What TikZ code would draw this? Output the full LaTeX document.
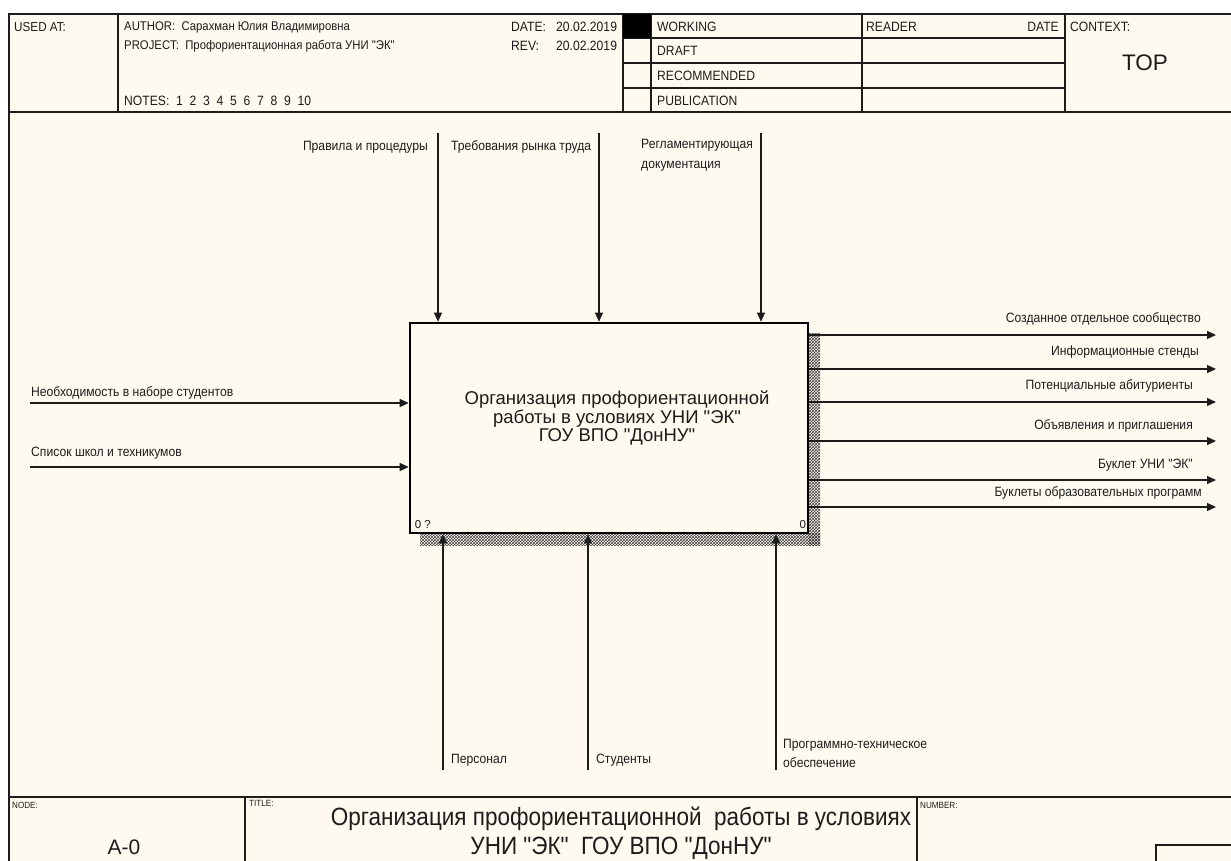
\documentclass[tikz,border=0pt]{standalone}
\usepackage{fontspec}
\setmainfont{Liberation Sans}[Ligatures=TeXOff]
\newfontfamily\narrowfont[FakeStretch=0.9]{Liberation Sans}
\usetikzlibrary{arrows.meta,patterns,positioning}
\definecolor{paper}{HTML}{FFFAF0}
\definecolor{ink}{HTML}{1C1C1C}
\tikzset{
  lbl/.style={inner sep=0pt, text=ink, font=\narrowfont\fontsize{13.5}{15.5}\selectfont},
  hdr/.style={lbl, anchor=west},
  tiny/.style={hdr, font=\narrowfont\fontsize{9}{10}\selectfont},
  rule/.style={draw=ink, line width=1.4pt},
  flow/.style={draw=ink, line width=1.2pt, -{Triangle[length=9pt,width=8pt]}},
  actbox/.style={draw=black, line width=2.6pt, fill=paper, minimum width=398pt,
    minimum height=210pt, inner sep=0pt},
  shade/.style={pattern=crosshatch, pattern color=black!75},
}
\begin{document}
\begin{tikzpicture}[x=1pt, y=-1pt]
\useasboundingbox (0,0) rectangle (1231,861);
\fill[white] (0,0) rectangle (1231,861);
\fill[paper] (9,14) rectangle (1231,861);
\draw[rule] (1231,14) -- (9,14) -- (9,861);
\draw[rule] (9,112) -- (1231,112);
\draw[rule] (118,14) -- (118,112);
\draw[rule] (623,14) -- (623,112);
\draw[rule] (651,14) -- (651,112);
\draw[rule] (862,14) -- (862,112);
\draw[rule] (1065,14) -- (1065,112);
\draw[rule] (623,38) -- (1065,38);
\draw[rule] (623,63) -- (1065,63);
\draw[rule] (623,88) -- (1065,88);
\fill[black] (623,14) rectangle (651,38);
\draw[rule] (9,797) -- (1231,797);
\draw[rule] (245,797) -- (245,861);
\draw[rule] (917,797) -- (917,861);
\draw[rule] (1231,845) -- (1156,845) -- (1156,861);

\node[hdr, font=\narrowfont\fontsize{13}{15}\selectfont] (usedat) at (14,27) {USED AT:};
\node[hdr, font=\narrowfont\fontsize{12.6}{15}\selectfont] (author) at (124,27) {AUTHOR:\ \ Сарахман Юлия Владимировна};
\node[hdr, font=\narrowfont\fontsize{12.6}{15}\selectfont] (project) at (124,46) {PROJECT:\ \ Профориентационная работа УНИ "ЭК"};
\node[hdr] (notes) at (124,101) {NOTES:\ \ 1\ \ 2\ \ 3\ \ 4\ \ 5\ \ 6\ \ 7\ \ 8\ \ 9\ \ 10};
\node[hdr] (date) at (511,27) {DATE:};
\node[hdr] (dateval) at (556,27) {20.02.2019};
\node[hdr] (rev) at (511,46) {REV:};
\node[hdr] (revval) at (556,46) {20.02.2019};
\node[hdr] (working) at (657,27) {WORKING};
\node[hdr] (draft) at (657,51) {DRAFT};
\node[hdr] (recommended) at (657,76) {RECOMMENDED};
\node[hdr] (publication) at (657,101) {PUBLICATION};
\node[hdr] (reader) at (866,27) {READER};
\node[lbl, anchor=east] (readerdate) at (1059,27) {DATE};
\node[hdr] (context) at (1070,27) {CONTEXT:};
\node[lbl, font=\fontsize{22.5}{24}\selectfont] (top) at (1145,63) {TOP};

\fill[shade] (808,333) rectangle (820,545);
\fill[shade] (420,533) rectangle (820,545);
\node[actbox] (act) at (609,428) {};
\node[lbl, align=center, font=\fontsize{18.5}{18.5}\selectfont] (acttext) at (617,418)
  {Организация профориентационной\\работы в условиях УНИ "ЭК"\\ГОУ ВПО "ДонНУ"};
\node[lbl, anchor=south west, font=\fontsize{11.5}{12}\selectfont] (actnum) at ([shift={(6,-5)}]act.south west) {0 ?};
\node[lbl, anchor=south east, font=\fontsize{11.5}{12}\selectfont] (actref) at ([shift={(-3,-5)}]act.south east) {0};

\coordinate (ctl1) at (438,133);
\coordinate (ctl2) at (599,133);
\coordinate (ctl3) at (761,133);
\draw[flow] (ctl1) -- (ctl1 |- act.north);
\draw[flow] (ctl2) -- (ctl2 |- act.north);
\draw[flow] (ctl3) -- (ctl3 |- act.north);
\node[lbl, anchor=east] (ctl1lbl) at (428,147) {Правила и процедуры};
\node[hdr] (ctl2lbl) at (451,147) {Требования рынка труда};
\node[lbl, anchor=north west, align=left, font=\narrowfont\fontsize{13.5}{20}\selectfont] (ctl3lbl) at (641,139) {Регламентирующая\\документация};

\coordinate (in1) at (30,403);
\coordinate (in2) at (30,467);
\draw[flow] (in1) -- (in1 -| act.west);
\draw[flow] (in2) -- (in2 -| act.west);
\node[hdr] (in1lbl) at (31,393) {Необходимость в наборе студентов};
\node[hdr] (in2lbl) at (31,453) {Список школ и техникумов};

\coordinate (out1) at (1216,335);
\coordinate (out2) at (1216,369);
\coordinate (out3) at (1216,402);
\coordinate (out4) at (1216,441);
\coordinate (out5) at (1216,480);
\coordinate (out6) at (1216,507);
\draw[flow] (out1 -| act.east) -- (out1);
\draw[flow] (out2 -| act.east) -- (out2);
\draw[flow] (out3 -| act.east) -- (out3);
\draw[flow] (out4 -| act.east) -- (out4);
\draw[flow] (out5 -| act.east) -- (out5);
\draw[flow] (out6 -| act.east) -- (out6);
\node[lbl, anchor=east] (out1lbl) at (1201,319) {Созданное отдельное сообщество};
\node[lbl, anchor=east] (out2lbl) at (1199,352) {Информационные стенды};
\node[lbl, anchor=east] (out3lbl) at (1193,386) {Потенциальные абитуриенты};
\node[lbl, anchor=east] (out4lbl) at (1193,426) {Объявления и приглашения};
\node[lbl, anchor=east] (out5lbl) at (1193,465) {Буклет УНИ "ЭК"};
\node[lbl, anchor=east] (out6lbl) at (1202,493) {Буклеты образовательных программ};

\coordinate (mech1) at (443,770);
\coordinate (mech2) at (588,770);
\coordinate (mech3) at (776,770);
\draw[flow] (mech1) -- (mech1 |- act.south);
\draw[flow] (mech2) -- (mech2 |- act.south);
\draw[flow] (mech3) -- (mech3 |- act.south);
\node[hdr] (mech1lbl) at (451,760) {Персонал};
\node[hdr] (mech2lbl) at (596,760) {Студенты};
\node[lbl, anchor=north west, align=left, font=\narrowfont\fontsize{13.5}{19}\selectfont] (mech3lbl) at (783,739) {Программно-техническое\\обеспечение};

\node[tiny] (nodelbl) at (12,805) {NODE:};
\node[lbl, font=\fontsize{21}{23}\selectfont] (nodeval) at (124,847) {А-0};
\node[tiny] (titlelbl) at (249,803) {TITLE:};
\node[lbl, align=center, font=\narrowfont\fontsize{25}{29}\selectfont] (title) at (621,833)
  {Организация профориентационной\ \ работы в условиях\\УНИ "ЭК"\ \ ГОУ ВПО "ДонНУ"};
\node[tiny] (numberlbl) at (920,805) {NUMBER:};
\end{tikzpicture}
\end{document}
